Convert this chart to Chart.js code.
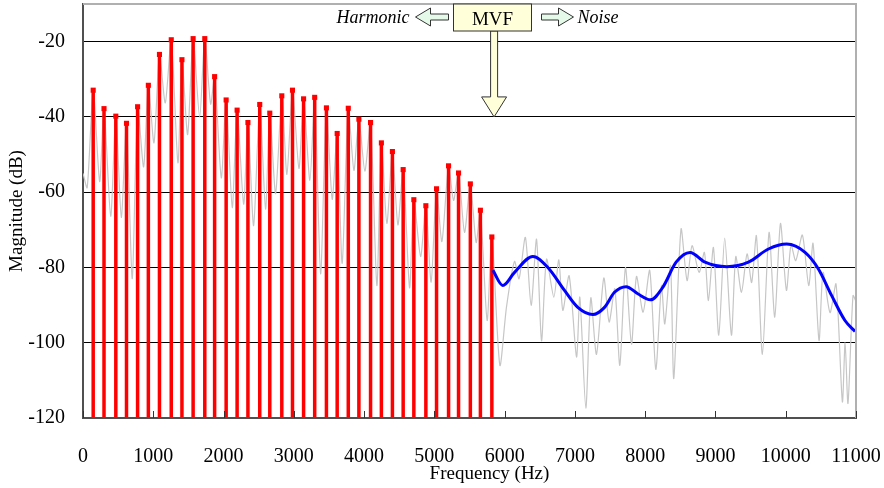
<!DOCTYPE html>
<html>
<head>
<meta charset="utf-8">
<script src="https://cdn.jsdelivr.net/npm/chart.js@4.4.1/dist/chart.umd.min.js"></script>
<style>
  html, body { margin: 0; padding: 0; background: #ffffff; }
  #wrap { position: relative; width: 884px; height: 488px; }
</style>
</head>
<body>
<div id="wrap"><canvas id="c"></canvas></div>
<script>
// ---- data ----
const harmonicFreq = [145, 299, 467, 619, 777, 930, 1088, 1256, 1408, 1567, 1733, 1873, 2037, 2193, 2347, 2515, 2658, 2829, 2981, 3139, 3297, 3464, 3617, 3775, 3926, 4092, 4246, 4403, 4556, 4708, 4879, 5031, 5202, 5344, 5512, 5655, 5818];
const harmonicDb = [-32.9, -37.8, -39.8, -41.7, -37.3, -31.6, -23.4, -19.5, -24.8, -19.2, -19.2, -29.3, -35.5, -38.2, -41.5, -36.7, -39, -34.4, -32.9, -35.2, -34.8, -37.6, -44.4, -37.7, -40.6, -41.5, -46.9, -49.2, -54, -62, -63.6, -59.1, -53, -54.9, -57.8, -64.8, -71.9];

const spectrumFreq = [0, 60, 145, 237, 299, 394, 467, 545, 619, 701, 777, 863, 930, 1010, 1088, 1171, 1256, 1351, 1408, 1489, 1567, 1660, 1733, 1816, 1873, 1968, 2037, 2124, 2193, 2286, 2347, 2428, 2515, 2598, 2658, 2741, 2829, 2902, 2981, 3073, 3139, 3229, 3297, 3381, 3464, 3546, 3617, 3688, 3775, 3855, 3926, 4011, 4092, 4182, 4246, 4324, 4403, 4481, 4556, 4647, 4708, 4804, 4879, 4954, 5031, 5107, 5202, 5273, 5344, 5429, 5512, 5595, 5655, 5751, 5818, 5932, 6027, 6140, 6205, 6295, 6377, 6454, 6525, 6596, 6700, 6771, 6828, 6918, 7023, 7070, 7155, 7226, 7307, 7411, 7487, 7568, 7639, 7719, 7805, 7876, 7970, 8065, 8151, 8232, 8279, 8360, 8407, 8510, 8596, 8667, 8767, 8843, 8900, 8971, 9047, 9132, 9227, 9289, 9370, 9450, 9515, 9583, 9668, 9763, 9844, 9925, 10010, 10075, 10142, 10237, 10327, 10389, 10474, 10531, 10630, 10716, 10806, 10845, 10886, 10957, 11000];
const spectrumDb = [-55, -58.8, -32.9, -57.2, -37.8, -66.4, -39.8, -66.7, -41.7, -83, -37.3, -53.3, -31.6, -46.9, -23.4, -36.3, -19.5, -52.2, -24.8, -44.7, -19.2, -40.1, -19.2, -36.6, -29.3, -56.2, -35.5, -64.1, -38.2, -63.2, -41.5, -68.9, -36.7, -64.5, -39, -60.4, -34.4, -55.3, -32.9, -53.7, -35.2, -56.9, -34.8, -81.7, -37.6, -61.9, -44.4, -78.9, -37.7, -54.2, -40.6, -54.4, -41.5, -84.8, -46.9, -68.3, -49.2, -68.7, -54, -85.4, -62, -77.1, -63.6, -83.9, -59.1, -73.1, -53, -62.2, -54.9, -70.7, -57.8, -73.4, -64.8, -94.1, -71.9, -106, -90.4, -78.4, -83, -72, -90.1, -72.5, -99.5, -77.8, -87.9, -78, -91.4, -82.2, -103.8, -87.9, -117.4, -88.1, -103.1, -82.8, -94.5, -85.7, -106, -80, -100.4, -82.4, -91.9, -80.8, -107.1, -84.8, -95, -79.5, -109.5, -69.8, -83.5, -74.2, -81.3, -76, -88.8, -74.7, -98, -72.2, -98, -77.1, -86.6, -76.4, -84, -71.6, -103.1, -70.7, -93.2, -68.3, -86.1, -74, -78.2, -71.4, -84.8, -73.6, -99.4, -81.3, -92, -84.4, -115.7, -100, -116.1, -87.5, -89];

const envelopeFreq = [5832, 5974, 6141, 6401, 6615, 6852, 7041, 7255, 7421, 7563, 7729, 7895, 8075, 8250, 8440, 8639, 8852, 9161, 9469, 9754, 10014, 10275, 10465, 10654, 10843, 10986];
const envelopeDb = [-80.7, -84.8, -81.3, -77.1, -80, -86.1, -90.6, -92.5, -90.6, -86.6, -85.1, -87, -88.6, -85.3, -78.6, -76, -78.6, -79.8, -78.6, -75.1, -73.8, -76, -80.4, -87.5, -94.1, -97];

const xTicks = [0, 1000, 2000, 3000, 4000, 5000, 6000, 7000, 8000, 9000, 10000, 11000];
const yTicks = [-120, -100, -80, -60, -40, -20];
const mvfFreq = 5850;
const mvfTipDb = -40;
const labels = { x: 'Frequency (Hz)', y: 'Magnitude (dB)', box: 'MVF', left: 'Harmonic', right: 'Noise' };

// ---- chart ----
const SERIF = "'Liberation Serif', 'Times New Roman', serif";
const toXY = (xs, ys) => xs.map((x, i) => ({ x: x, y: ys[i] }));

function hollowArrow(ctx, xTail, xTip, yc, headLen, headHalf, shaftHalf) {
  const dir = xTip > xTail ? 1 : -1;
  const xNeck = xTip - dir * headLen;
  ctx.beginPath();
  ctx.moveTo(xTail, yc - shaftHalf);
  ctx.lineTo(xNeck, yc - shaftHalf);
  ctx.lineTo(xNeck, yc - headHalf);
  ctx.lineTo(xTip, yc);
  ctx.lineTo(xNeck, yc + headHalf);
  ctx.lineTo(xNeck, yc + shaftHalf);
  ctx.lineTo(xTail, yc + shaftHalf);
  ctx.closePath();
  ctx.fillStyle = '#E6FAEA';
  ctx.fill();
  ctx.strokeStyle = '#333333';
  ctx.lineWidth = 1;
  ctx.stroke();
}

function zeroPad(s) { s.paddingTop = 0; s.paddingBottom = 0; s.paddingLeft = 0; s.paddingRight = 0; }

const decorPlugin = {
  id: 'decor',
  afterDatasetsDraw(chart) {
    const ctx = chart.ctx;
    const a = chart.chartArea;
    const xs = chart.scales.x;
    ctx.save();
    // frame (top + right)
    ctx.strokeStyle = '#B0B0B0';
    ctx.lineWidth = 2;
    ctx.beginPath();
    ctx.moveTo(a.left, a.top);
    ctx.lineTo(a.right, a.top);
    ctx.lineTo(a.right, a.bottom);
    ctx.stroke();
    // inward x ticks
    ctx.strokeStyle = '#333333';
    ctx.lineWidth = 1;
    xTicks.forEach(v => {
      const px = Math.round(xs.getPixelForValue(v)) + 0.5;
      ctx.beginPath();
      ctx.moveTo(px, a.bottom);
      ctx.lineTo(px, a.bottom - 7);
      ctx.stroke();
    });
    ctx.restore();
  },
  afterDraw(chart) {
    const ctx = chart.ctx;
    const xs = chart.scales.x, ys = chart.scales.y;
    const a = chart.chartArea;
    const cx = xs.getPixelForValue(mvfFreq);
    const tipY = ys.getPixelForValue(mvfTipDb);
    ctx.save();
    // x axis title (sits right of centre in the reference)
    ctx.fillStyle = '#000000';
    ctx.font = '19px ' + SERIF;
    ctx.textAlign = 'center';
    ctx.textBaseline = 'middle';
    ctx.fillText(labels.x, (a.left + a.right) / 2 + 20, 474);
    // down arrow
    const boxTop = a.top, boxBot = a.top + 27;
    const neckY = tipY - 20;
    ctx.beginPath();
    ctx.moveTo(cx - 3.5, boxBot);
    ctx.lineTo(cx - 3.5, neckY);
    ctx.lineTo(cx - 12.5, neckY);
    ctx.lineTo(cx, tipY);
    ctx.lineTo(cx + 12.5, neckY);
    ctx.lineTo(cx + 3.5, neckY);
    ctx.lineTo(cx + 3.5, boxBot);
    ctx.closePath();
    ctx.fillStyle = '#FFFFDA';
    ctx.fill();
    ctx.strokeStyle = '#333333';
    ctx.lineWidth = 1;
    ctx.stroke();
    // box
    const bl = Math.round(cx - 41.5) + 0.5, br = Math.round(cx + 36.5) + 0.5;
    ctx.fillStyle = '#FFFFDA';
    ctx.fillRect(bl, boxTop, br - bl, boxBot - boxTop);
    ctx.strokeRect(bl, boxTop, br - bl, boxBot - boxTop);
    ctx.fillStyle = '#000000';
    ctx.font = '19px ' + SERIF;
    ctx.textAlign = 'center';
    ctx.textBaseline = 'alphabetic';
    ctx.fillText(labels.box, (bl + br) / 2, boxTop + 21);
    // side arrows
    const ay = a.top + 13;
    hollowArrow(ctx, bl - 5, bl - 38, ay, 15, 9, 3);
    hollowArrow(ctx, br + 10, br + 42, ay, 15, 9, 3);
    ctx.fillStyle = '#000000';
    ctx.font = 'italic 18px ' + SERIF;
    ctx.textAlign = 'right';
    ctx.fillText(labels.left, bl - 44, a.top + 19);
    ctx.textAlign = 'left';
    ctx.fillText(labels.right, br + 46, a.top + 19);
    ctx.restore();
  }
};

new Chart(document.getElementById('c'), {
  type: 'bar',
  data: {
    datasets: [
      {
        type: 'line',
        label: 'Spectrum',
        data: toXY(spectrumFreq, spectrumDb),
        borderColor: '#C6C6C6',
        borderWidth: 1.2,
        pointRadius: 0,
        tension: 0.25,
        fill: false,
        order: 4
      },
      {
        type: 'bar',
        label: 'Harmonics',
        data: toXY(harmonicFreq, harmonicDb),
        backgroundColor: '#FF0000',
        borderWidth: 0,
        barThickness: 3.5,
        maxBarThickness: 3.5,
        inflateAmount: 0,
        base: -120,
        order: 3
      },
      {
        type: 'line',
        label: 'Harmonic peaks',
        data: toXY(harmonicFreq, harmonicDb),
        showLine: false,
        pointStyle: 'rect',
        pointRadius: 3.6,
        pointBackgroundColor: '#FF0000',
        pointBorderWidth: 0,
        order: 2
      },
      {
        type: 'line',
        label: 'Noise envelope',
        data: toXY(envelopeFreq, envelopeDb),
        borderColor: '#0000FF',
        borderWidth: 3,
        pointRadius: 0,
        tension: 0.4,
        cubicInterpolationMode: 'monotone',
        fill: false,
        order: 1
      }
    ]
  },
  options: {
    responsive: true,
    maintainAspectRatio: false,
    animation: false,
    layout: { padding: { top: 3, right: 28, left: 0, bottom: 0 } },
    plugins: { legend: { display: false }, tooltip: { enabled: false } },
    scales: {
      x: {
        type: 'linear',
        min: 0,
        max: 11000,
        offset: false,
        afterFit: s => { s.height = 70; zeroPad(s); },
        afterBuildTicks: s => { s.ticks = xTicks.map(v => ({ value: v })); },
        grid: { display: false, drawTicks: false },
        border: { display: true, color: '#505050', width: 2 },
        ticks: { color: '#000000', font: { family: SERIF, size: 20 }, padding: 27, maxRotation: 0, autoSkip: false, callback: v => String(v) },
        title: { display: false }
      },
      y: {
        min: -120,
        max: -10,
        afterFit: s => { s.width = 83; zeroPad(s); },
        afterBuildTicks: s => { s.ticks = yTicks.map(v => ({ value: v })); },
        grid: { color: '#000000', lineWidth: 1, drawTicks: false },
        border: { display: true, color: '#505050', width: 2 },
        ticks: { color: '#000000', font: { family: SERIF, size: 20 }, padding: 18, callback: v => String(v) },
        title: { display: true, text: labels.y, color: '#000000', font: { family: SERIF, size: 19 }, padding: { top: 6, bottom: 0 } }
      }
    }
  },
  plugins: [decorPlugin]
});
</script>
</body>
</html>
